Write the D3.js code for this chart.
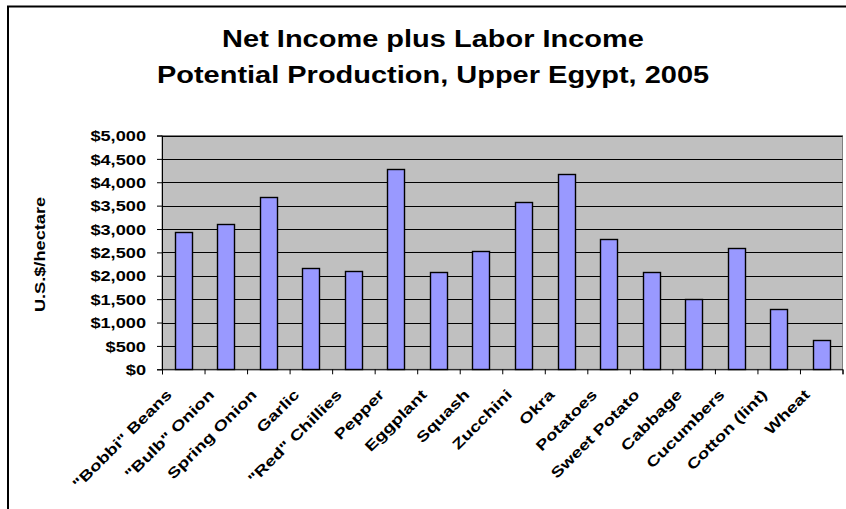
<!DOCTYPE html>
<html><head><meta charset="utf-8">
<script src="https://cdn.jsdelivr.net/npm/d3@7"></script>
<style>
body{margin:0;background:#fff;overflow:hidden}
text{font-family:"Liberation Sans",Arial,Helvetica,sans-serif;font-weight:bold;fill:#000}
</style>
</head><body><svg id="c" width="846" height="509"></svg>
<script>
const categories = ['"Bobbi" Beans','"Bulb" Onion','Spring Onion','Garlic','"Red" Chillies','Pepper','Eggplant','Squash','Zucchini','Okra','Potatoes','Sweet Potato','Cabbage','Cucumbers','Cotton (lint)','Wheat'];
const values = [2930,3115,3685,2175,2110,4290,2080,2540,3570,4180,2780,2080,1505,2600,1300,630];
const yTicks = [0,500,1000,1500,2000,2500,3000,3500,4000,4500,5000];
const titleLines = ["Net Income plus Labor Income","Potential Production, Upper Egypt, 2005"];
const yLabel = "U.S.$/hectare";

const svg = d3.select("#c");
const L = 162, R = 842.5, T = 135.5, B = 369.3;
const SX = 1.3;

// outer chart border
svg.append("path").attr("d","M8,512 L8,6.5 L850,6.5").attr("fill","none").attr("stroke","#000").attr("stroke-width",2);

const x = d3.scaleBand().domain(categories).range([L,R]).paddingInner(0.6).paddingOuter(0.3);
const xb = d3.scaleLinear().domain([0,categories.length]).range([L,R]);
const y = d3.scaleLinear().domain([0,5000]).range([B,T]);

// plot area
svg.append("rect").attr("x",L).attr("y",T).attr("width",R-L).attr("height",B-T)
  .attr("fill","#C0C0C0").attr("stroke","#808080").attr("stroke-width",1);

// gridlines
svg.append("g").selectAll("line").data(yTicks.filter(d=>d>0)).join("line")
  .attr("x1",L).attr("x2",R)
  .attr("y1",d=>Math.round(y(d))+0.5).attr("y2",d=>Math.round(y(d))+0.5)
  .attr("stroke","#000").attr("stroke-width",1);

// bars
svg.append("g").selectAll("rect").data(values).join("rect")
  .attr("x",(d,i)=>Math.round(x(categories[i]))+0.5)
  .attr("y",d=>Math.round(y(d))+0.5)
  .attr("width",Math.round(x.bandwidth()))
  .attr("height",d=>Math.round(B)-Math.round(y(d)))
  .attr("fill","#9999FF").attr("stroke","#000").attr("stroke-width",1.4);

// y axis
const ya = svg.append("g").attr("transform",`translate(${L},0)`)
  .call(d3.axisLeft(y).tickValues(yTicks).tickFormat(d3.format("$,")).tickSize(5).tickPadding(11));
ya.select(".domain").attr("stroke","#000");
ya.selectAll(".tick line").attr("stroke","#000");
ya.selectAll(".tick text").each(function(){
  const t = d3.select(this); const xx = +t.attr("x");
  t.attr("x",0).attr("dy",null).attr("dominant-baseline","central")
   .attr("transform",`translate(${xx},0) scale(${SX},1)`);
}).attr("font-size",14).attr("font-family",null);

// x axis
const xa = svg.append("g").attr("transform",`translate(0,${B})`)
  .call(d3.axisBottom(xb).tickValues(d3.range(categories.length+1)).tickFormat("").tickSize(5));
xa.select(".domain").attr("stroke","#000");
xa.selectAll(".tick line").attr("stroke","#000");

// x labels
svg.append("g").selectAll("text").data(categories).join("text")
  .attr("transform",d=>`translate(${x(d)+x.bandwidth()/2-14},${B+23}) rotate(-45) scale(1.3,1)`)
  .attr("text-anchor","end").attr("dominant-baseline","central")
  .attr("font-size",14.5).text(d=>d);

// y label
svg.append("text").attr("transform",`translate(40,254.5) rotate(-90) scale(${SX},1)`)
  .attr("text-anchor","middle").attr("dominant-baseline","central")
  .attr("font-size",14).text(yLabel);

// title
const tb = [46.7, 83.3];
svg.append("g").selectAll("text").data(titleLines).join("text")
  .attr("transform",(d,i)=>`translate(433,${tb[i]}) scale(1.26,1)`)
  .attr("text-anchor","middle").attr("font-size",23).text(d=>d);
</script>
</body></html>
